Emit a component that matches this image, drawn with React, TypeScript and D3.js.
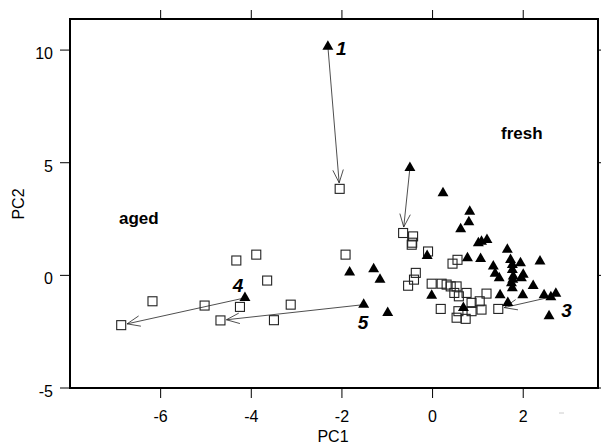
import React from "react";
import * as d3 from "d3";

// PC scores
const agedPoints: [number, number][] = [
  [-2.05, 3.84], [-4.33, 0.66], [-3.89, 0.92], [-3.65, -0.23], [-6.18, -1.15],
  [-5.03, -1.34], [-4.25, -1.4], [-6.87, -2.21], [-4.68, -2.0], [-3.5, -1.99],
  [-3.13, -1.3], [-1.92, 0.92], [-0.65, 1.88], [-0.43, 1.73], [-0.46, 1.36],
  [-0.45, 1.45], [-0.1, 1.06], [0.44, 0.52], [0.55, 0.69], [-0.37, 0.11],
  [-0.41, -0.19], [-0.54, -0.46], [-0.02, -0.37], [0.2, -0.37], [0.31, -0.41],
  [0.4, -0.49], [0.53, -0.49], [0.48, -0.78], [0.58, -0.93], [0.75, -0.78],
  [0.18, -1.49], [0.53, -1.88], [0.73, -1.93], [0.57, -1.59], [0.86, -1.22],
  [0.86, -1.59], [1.04, -1.15], [1.08, -1.52], [1.19, -0.81], [1.45, -1.49],
];

const freshPoints: [number, number][] = [
  [-2.31, 10.16], [-0.5, 4.77], [-4.14, -1.0], [-1.83, 0.13], [-1.3, 0.28],
  [-1.16, -0.19], [-1.52, -1.3], [-0.99, -1.66], [0.23, 3.65], [0.82, 2.83],
  [0.8, 2.36], [0.62, 2.05], [1.01, 1.43], [1.08, 1.5], [1.2, 1.58],
  [-0.12, 0.87], [0.77, 0.77], [1.06, 0.73], [-0.02, -0.9], [0.68, -1.44],
  [1.65, 1.14], [1.72, 0.69], [1.94, 0.55], [2.37, 0.62], [1.34, 0.4],
  [1.38, 0.08], [1.47, -0.12], [1.76, 0.25], [1.78, -0.04], [2.0, 0.03],
  [1.96, -0.12], [1.74, -0.34], [1.76, -0.56], [2.22, -0.46], [1.49, -0.88],
  [1.99, -0.88], [2.46, -0.88], [2.72, -0.81], [2.61, -0.96], [1.66, -1.22],
  [2.57, -1.81], [1.76, 0.47], [1.77, -0.19],
];

// fresh index -> aged index
const arrowPairs: [number, number][] = [[0, 0], [1, 12], [2, 7], [6, 8], [38, 39]];

const numberLabels: { text: string; x: number; y: number }[] = [
  { text: "1", x: -2.13, y: 9.78 },
  { text: "4", x: -4.41, y: -0.74 },
  { text: "5", x: -1.65, y: -2.38 },
  { text: "3", x: 2.84, y: -1.85 },
];
const groupLabels: { text: string; x: number; y: number }[] = [
  { text: "aged", x: -6.92, y: 2.28 },
  { text: "fresh", x: 1.51, y: 6.05 },
];

const xTicks = [-6, -4, -2, 0, 2];
const yTicks = [-5, 0, 5, 10];

const W = 601;
const H = 447;
const left = 70, right = 598, top = 19, bottom = 388;
const font = "'Liberation Sans', Arial, sans-serif";

export default function App() {
  const x = d3.scaleLinear().domain([-8.0, 3.65]).range([left, right]);
  const y = d3.scaleLinear().domain([-5, 11.38]).range([bottom, top]);

  const tri = d3.symbol(d3.symbolTriangle, 52)() as string;
  const sq = 9;

  const arrows = arrowPairs.map(([fi, ai], i) => {
    const [fx, fy] = freshPoints[fi];
    const [ax, ay] = agedPoints[ai];
    const x1 = x(fx), y1 = y(fy);
    let x2 = x(ax), y2 = y(ay);
    const ang = Math.atan2(y2 - y1, x2 - x1);
    x2 -= Math.cos(ang) * 6;
    y2 -= Math.sin(ang) * 6;
    const len = 14, spread = (22 * Math.PI) / 180;
    const b1 = [x2 - len * Math.cos(ang - spread), y2 - len * Math.sin(ang - spread)];
    const b2 = [x2 - len * Math.cos(ang + spread), y2 - len * Math.sin(ang + spread)];
    return (
      <g key={"arrow" + i} stroke="#222" strokeWidth={0.8} fill="none">
        <line x1={x1} y1={y1} x2={x2} y2={y2} />
        <polyline points={`${b1[0]},${b1[1]} ${x2},${y2} ${b2[0]},${b2[1]}`} />
      </g>
    );
  });

  return (
    <svg width={W} height={H} style={{ position: "absolute", left: 0, top: 0, background: "#fff" }}>
      <rect x={0} y={0} width={W} height={H} fill="#fff" />
      {arrows}
      {agedPoints.map(([a, b], i) => (
        <rect key={"s" + i} x={x(a) - sq / 2} y={y(b) - sq / 2} width={sq} height={sq}
          fill="none" stroke="#222" strokeWidth={1.1} />
      ))}
      {freshPoints.map(([a, b], i) => (
        <path key={"t" + i} d={tri} transform={`translate(${x(a)},${y(b)})`} fill="#000" />
      ))}
      <rect x={left} y={top} width={right - left} height={bottom - top} fill="none" stroke="#000" strokeWidth={2} />
      {xTicks.map((t) => (
        <g key={"xt" + t}>
          <line x1={x(t)} x2={x(t)} y1={bottom} y2={bottom + 10} stroke="#000" strokeWidth={1} />
          <line x1={x(t)} x2={x(t)} y1={top} y2={top - 9} stroke="#000" strokeWidth={1} />
          <text x={x(t)} y={bottom + 34} textAnchor="middle" fontFamily={font} fontSize={16}>{t}</text>
        </g>
      ))}
      {yTicks.map((t) => (
        <g key={"yt" + t}>
          <line x1={left - 10} x2={left} y1={y(t)} y2={y(t)} stroke="#000" strokeWidth={1} />
          <line x1={right} x2={right + 4} y1={y(t)} y2={y(t)} stroke="#000" strokeWidth={1} />
          <text x={53} y={y(t) + 9} textAnchor="end" fontFamily={font} fontSize={16}>{t}</text>
        </g>
      ))}
      <line x1={559} x2={564} y1={413} y2={413} stroke="#ccc" strokeWidth={1} />
      <text x={333} y={442} textAnchor="middle" fontFamily={font} fontSize={16}>PC1</text>
      <text transform={`translate(24,204) rotate(-90)`} textAnchor="middle" fontFamily={font} fontSize={16}>PC2</text>
      {groupLabels.map((l) => (
        <text key={l.text} x={x(l.x)} y={y(l.y)} fontFamily={font} fontSize={17} fontWeight="bold">{l.text}</text>
      ))}
      {numberLabels.map((l) => (
        <text key={l.text} x={x(l.x)} y={y(l.y)} fontFamily={font} fontSize={19} fontWeight="bold" fontStyle="italic">{l.text}</text>
      ))}
    </svg>
  );
}
